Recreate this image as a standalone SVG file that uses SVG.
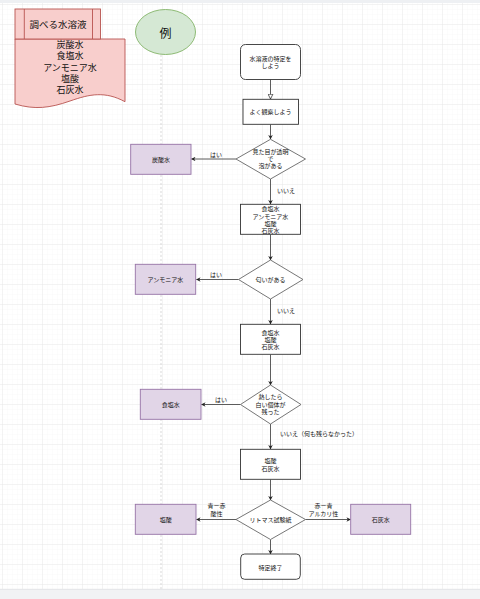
<svg xmlns="http://www.w3.org/2000/svg" width="480" height="599" viewBox="0 0 480 599">
<defs>
<pattern id="minor" patternUnits="userSpaceOnUse" x="2" y="4" width="5" height="5">
<path d="M0,0 V5 M0,0 H5" stroke="#f3f3f3" stroke-width="0.6" fill="none"/>
</pattern>
<pattern id="major" patternUnits="userSpaceOnUse" x="2" y="4" width="20" height="20">
<path d="M0,0 V20 M0,0 H20" stroke="#e6e6e6" stroke-width="0.8" fill="none"/>
</pattern>
<marker id="arr" viewBox="0 0 10 10" refX="9" refY="5" markerWidth="4.5" markerHeight="4.5" orient="auto" markerUnits="userSpaceOnUse">
<path d="M0,0 L10,5 L0,10 L3,5 Z" fill="#222"/>
</marker>
<marker id="open" viewBox="0 0 10 10" refX="9" refY="5" markerWidth="6" markerHeight="6" orient="auto" markerUnits="userSpaceOnUse">
<path d="M1,1 L9,5 L1,9 Z" fill="#fff" stroke="#222" stroke-width="1.2"/>
</marker>
</defs>
<style>
text{font-family:"Noto Sans CJK JP","Noto Sans",sans-serif;fill:#111;text-anchor:middle;dominant-baseline:central}
.s{font-size:6px}
.m{font-size:9px}
.box{fill:#fff;stroke:#333;stroke-width:0.9}
.dia{fill:#fff;stroke:#666;stroke-width:0.9}
.pur{fill:#e1d5e7;stroke:#9673a6;stroke-width:0.9}
.con{fill:none;stroke:#333;stroke-width:0.8}
</style>
<rect width="480" height="599" fill="#fff"/>
<rect width="480" height="599" fill="url(#minor)"/>
<rect width="480" height="599" fill="url(#major)"/>
<rect x="0" y="0" width="480" height="3" fill="#eef0f3"/>
<rect x="0" y="589" width="480" height="10" fill="#f1f2f4"/>
<line x1="0" y1="589.3" x2="480" y2="589.3" stroke="#dfe1e5" stroke-width="0.8"/>

<line x1="161" y1="55" x2="161" y2="589" stroke="#cfcfcf" stroke-width="0.8" stroke-dasharray="2 2"/>

<g id="list">
<path d="M15,39 H125 V101.7 C105,91 90,94 70,101 C50,108 35,110 15,104 Z" fill="#f8cecc" stroke="#b85450" stroke-width="0.9"/>
<text class="m" x="70" y="44.5">炭酸水</text>
<text class="m" x="70" y="55.5">食塩水</text>
<text class="m" x="70" y="67.5">アンモニア水</text>
<text class="m" x="70" y="78.5">塩酸</text>
<text class="m" x="70" y="89">石灰水</text>
</g>
<g id="title">
<rect x="15" y="9" width="85.5" height="30" fill="#f8cecc" stroke="#b85450" stroke-width="0.9"/>
<line x1="24.3" y1="9" x2="24.3" y2="39" stroke="#b85450" stroke-width="0.9"/>
<line x1="92.5" y1="9" x2="92.5" y2="39" stroke="#b85450" stroke-width="0.9"/>
<text class="m" x="58" y="24" style="font-size:9.5px">調べる水溶液</text>
</g>
<g id="example">
<ellipse cx="165.5" cy="32" rx="30" ry="22.5" fill="#d5e8d4" stroke="#82b366" stroke-width="0.9"/>
<text x="165.5" y="32" style="font-size:12px">例</text>
</g>

<g id="connectors">
<line class="con" x1="270.5" y1="79.5" x2="270.5" y2="99" marker-end="url(#open)"/>
<line class="con" x1="270.5" y1="124.5" x2="270.5" y2="139" marker-end="url(#arr)"/>
<line class="con" x1="236" y1="159" x2="191.5" y2="159" marker-end="url(#arr)"/>
<line class="con" x1="270.5" y1="179" x2="270.5" y2="204" marker-end="url(#arr)"/>
<line class="con" x1="270.5" y1="234.5" x2="270.5" y2="260" marker-end="url(#arr)"/>
<line class="con" x1="238.5" y1="279.5" x2="196.5" y2="279.5" marker-end="url(#arr)"/>
<line class="con" x1="270.5" y1="299" x2="270.5" y2="324" marker-end="url(#arr)"/>
<line class="con" x1="270.5" y1="354.5" x2="270.5" y2="385" marker-end="url(#arr)"/>
<line class="con" x1="240.5" y1="404.5" x2="201.5" y2="404.5" marker-end="url(#arr)"/>
<line class="con" x1="270.5" y1="424" x2="270.5" y2="449" marker-end="url(#arr)"/>
<line class="con" x1="270.5" y1="479.5" x2="270.5" y2="500" marker-end="url(#arr)"/>
<line class="con" x1="236" y1="519.5" x2="196.5" y2="519.5" marker-end="url(#arr)"/>
<line class="con" x1="305.5" y1="519.5" x2="350.5" y2="519.5" marker-end="url(#arr)"/>
<line class="con" x1="270.5" y1="539.5" x2="270.5" y2="554" marker-end="url(#arr)"/>
<text class="s" x="216" y="154">はい</text>
<text class="s" x="286" y="190.5">いいえ</text>
<text class="s" x="216" y="274">はい</text>
<text class="s" x="286" y="310">いいえ</text>
<text class="s" x="221" y="399">はい</text>
<text class="s" x="280" y="433.5" style="text-anchor:start">いいえ（何も残らなかった）</text>
<text class="s" x="216.5" y="505">青ー赤</text>
<text class="s" x="216.5" y="513.3">酸性</text>
<text class="s" x="323.5" y="505">赤ー青</text>
<text class="s" x="323.5" y="513.3">アルカリ性</text>
</g>

<g id="start">
<rect class="box" x="240.5" y="44.5" width="60" height="35" rx="5"/>
<text class="s" x="270.5" y="58.3">水溶液の特定を</text>
<text class="s" x="270.5" y="65.3">しよう</text>
</g>
<g id="observe">
<rect class="box" x="243" y="99.3" width="55.5" height="25"/>
<text class="s" x="270.5" y="111.8">よく観察しよう</text>
</g>
<g id="d1">
<path class="dia" d="M270.5,139.3 L305.5,159 L270.5,179 L236,159 Z"/>
<text class="s" x="270.5" y="151.8">見た目が透明</text>
<text class="s" x="270.5" y="158.3">で</text>
<text class="s" x="270.5" y="165.6">泡がある</text>
</g>
<g id="tansan">
<rect class="pur" x="130.7" y="144.3" width="60.3" height="30"/>
<text class="s" x="161" y="159.3">炭酸水</text>
</g>
<g id="box3">
<rect class="box" x="240.5" y="204.3" width="60" height="30"/>
<text class="s" x="270.5" y="208.5">食塩水</text>
<text class="s" x="270.5" y="216">アンモニア水</text>
<text class="s" x="270.5" y="223.2">塩酸</text>
<text class="s" x="270.5" y="230.4">石灰水</text>
</g>
<g id="d2">
<path class="dia" d="M270.5,260 L303,279.5 L270.5,299 L238.5,279.5 Z"/>
<text class="s" x="270.5" y="279.5">匂いがある</text>
</g>
<g id="ammonia">
<rect class="pur" x="135.3" y="264.3" width="60.4" height="30"/>
<text class="s" x="165.5" y="279.3">アンモニア水</text>
</g>
<g id="box4">
<rect class="box" x="240.5" y="324.3" width="60" height="30"/>
<text class="s" x="270.5" y="332.3">食塩水</text>
<text class="s" x="270.5" y="339.3">塩酸</text>
<text class="s" x="270.5" y="346">石灰水</text>
</g>
<g id="d3">
<path class="dia" d="M270.5,385 L301,404.5 L270.5,424 L240.5,404.5 Z"/>
<text class="s" x="270.5" y="396.5">熱したら</text>
<text class="s" x="270.5" y="404">白い個体が</text>
<text class="s" x="270.5" y="411.3">残った</text>
</g>
<g id="shokuen">
<rect class="pur" x="140.3" y="389.3" width="60.7" height="30"/>
<text class="s" x="170.7" y="404.3">食塩水</text>
</g>
<g id="box5">
<rect class="box" x="240.5" y="449.3" width="60" height="30"/>
<text class="s" x="270.5" y="460.7">塩酸</text>
<text class="s" x="270.5" y="468.3">石灰水</text>
</g>
<g id="d4">
<path class="dia" d="M270.5,500 L305.5,519.5 L270.5,539.5 L236,519.5 Z"/>
<text class="s" x="270.5" y="519.5">リトマス試験紙</text>
</g>
<g id="ensan">
<rect class="pur" x="135.3" y="504.3" width="60.7" height="30"/>
<text class="s" x="165.7" y="519.3">塩酸</text>
</g>
<g id="sekkai">
<rect class="pur" x="350.7" y="504.3" width="60" height="30"/>
<text class="s" x="380.7" y="519.3">石灰水</text>
</g>
<g id="end">
<rect class="box" x="240.7" y="554" width="59.6" height="25.3" rx="4"/>
<text class="s" x="270.5" y="567">特定終了</text>
</g>
</svg>
